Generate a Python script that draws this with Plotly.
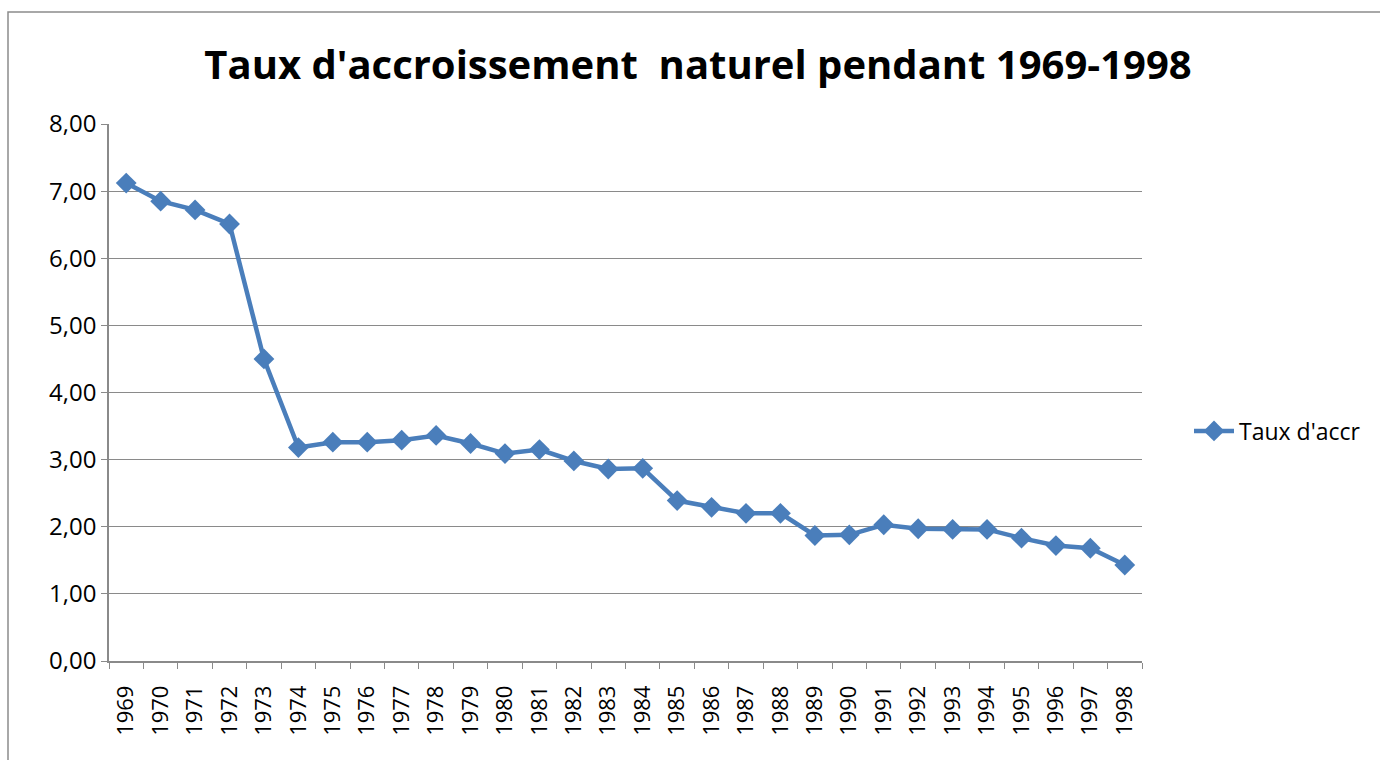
import plotly.graph_objects as go

years = [str(y) for y in range(1969, 1999)]
taux = [7.12, 6.85, 6.72, 6.51, 4.50, 3.18, 3.26, 3.26, 3.29, 3.36,
        3.24, 3.09, 3.15, 2.98, 2.86, 2.87, 2.39, 2.29, 2.20, 2.20,
        1.87, 1.88, 2.03, 1.97, 1.96, 1.96, 1.83, 1.72, 1.68, 1.43]
series_name = "Taux d'accr"
title_text = "Taux d'accroissement\u00a0 naturel pendant 1969-1998"

W, H = 1380, 760
L, R, T, B = 109, 238, 124, 99

fig = go.Figure()
fig.add_trace(go.Scatter(
    x=years, y=taux, mode="lines+markers", name=series_name,
    line=dict(color="#4A7EBB", width=4.5),
    marker=dict(symbol="diamond", size=16, color="#4A7EBB"),
))

pw = W - L - R
ph = H - T - B
fig.update_layout(
    width=W, height=H,
    margin=dict(l=L, r=R, t=T, b=B, pad=0, autoexpand=False),
    paper_bgcolor="white", plot_bgcolor="white",
    separators=", ",
    font=dict(family="Open Sans", color="black"),
    title=dict(text=title_text, x=698 / W, xanchor="center", y=1 - 65 / H, yanchor="middle",
               font=dict(family="Open Sans", size=40, color="black", weight="bold")),
    showlegend=True,
    legend=dict(x=1 + (1189 - (W - R)) / pw, xanchor="left", y=1 - (431 - T) / ph, yanchor="middle",
                font=dict(size=23, family="Open Sans"), bgcolor="rgba(0,0,0,0)",
                itemwidth=40),
    shapes=[dict(type="rect", xref="paper", yref="paper",
                 x0=(8 - L) / pw, x1=(W + 20 - L) / pw,
                 y0=-(H + 50 - T - ph) / ph, y1=1 + (T - 12) / ph,
                 line=dict(color="#8c8c8c", width=1.5), layer="below")],
)
fig.update_yaxes(range=[0, 8], dtick=1, tickformat=".2f",
                 showgrid=True, gridcolor="#8a8a8a", gridwidth=1.2,
                 showline=True, linecolor="#8a8a8a", linewidth=1.5,
                 ticks="outside", ticklen=6, tickcolor="#8a8a8a",
                 tickfont=dict(size=24, family="Open Sans"), zeroline=False)
fig.update_xaxes(type="category", range=[-0.5, 29.5], tickangle=-90, tickson="boundaries",
                 showline=True, linecolor="#8a8a8a", linewidth=1.5,
                 ticks="outside", ticklen=6, tickcolor="#8a8a8a", ticklabelstandoff=14,
                 tickfont=dict(size=22, family="Open Sans"), showgrid=False)

fig.write_html("out.html", config={"displayModeBar": False},
               post_script="document.body.style.margin='0px';")
